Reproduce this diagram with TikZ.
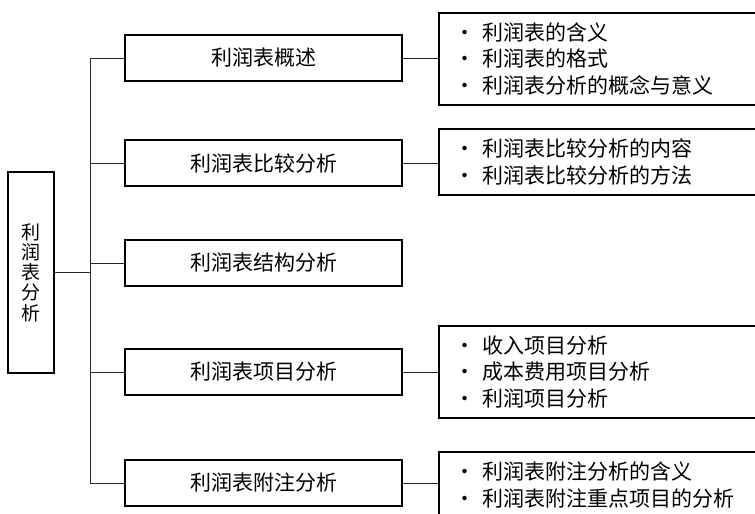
\documentclass[tikz,border=0pt]{standalone}
\usepackage{fontspec}
\setmainfont{Noto Sans CJK SC}
\usetikzlibrary{positioning}
\newcommand{\midw}{277}
\newcommand{\midh}{46}
\newcommand{\trx}{90}
\newcommand{\itm}[1]{\makebox[25pt][l]{\hspace{-3pt}·}#1}
\newcommand{\midbox}[3]{
	\node [mid] (#1) at (263.5,#2) {#3};
	\draw [conn] (#1.west) -- (#1.west -| trunk);
	}
\newcommand{\subbox}[5]{
	\node [sub, minimum height=#3] (#1) at (438,#2) {#5};
	\draw [conn] (#4.east) -- (#4.east -| #1.west);
	}

\begin{document}
\begin{tikzpicture}[
      x=1pt, y=-1pt, %one unit = one pixel of the page
      box/.style={draw=black, line width=1.6pt},
      conn/.style={line width=0.9pt, draw=black!85},
      mid/.style={box, minimum width=\midw pt, minimum height=\midh pt, inner sep=0pt,
        font=\fontsize{21}{26}\selectfont},
      sub/.style={box, anchor=west, text width=330pt, inner xsep=19pt, align=left,
        font=\fontsize{21}{26.5}\selectfont},
      root/.style={box, minimum width=46pt, minimum height=201pt, inner sep=0pt, align=center,
        font=\fontsize{19}{20.2}\selectfont}
    ]
    \useasboundingbox (0,0) rectangle (755,514);
    \clip (0,0) rectangle (755,514);
    \coordinate (trunk) at (\trx,0);
    % root of the tree
    \node [root] (root) at (31,272.5) {利\\润\\表\\分\\析};
    \draw [conn] (root.east) -- (root.east -| trunk);
    % second level
    \midbox{gs}{58}{利润表概述};
    \midbox{bj}{163}{利润表比较分析};
    \midbox{jg}{263}{利润表结构分析};
    \midbox{xm}{372}{利润表项目分析};
    \midbox{fz}{483}{利润表附注分析};
    \draw [conn] (gs.west -| trunk) -- (fz.west -| trunk);
    % third level
    \subbox{gsl}{59}{92pt}{gs}{\itm{利润表的含义}\\ \itm{利润表的格式}\\ \itm{利润表分析的概念与意义}};
    \subbox{bjl}{162}{66pt}{bj}{\itm{利润表比较分析的内容}\\ \itm{利润表比较分析的方法}};
    \subbox{xml}{372}{92pt}{xm}{\itm{收入项目分析}\\ \itm{成本费用项目分析}\\ \itm{利润项目分析}};
    \subbox{fzl}{485}{66pt}{fz}{\itm{利润表附注分析的含义}\\ \itm{利润表附注重点项目的分析}};
    \end{tikzpicture}
\end{document}
